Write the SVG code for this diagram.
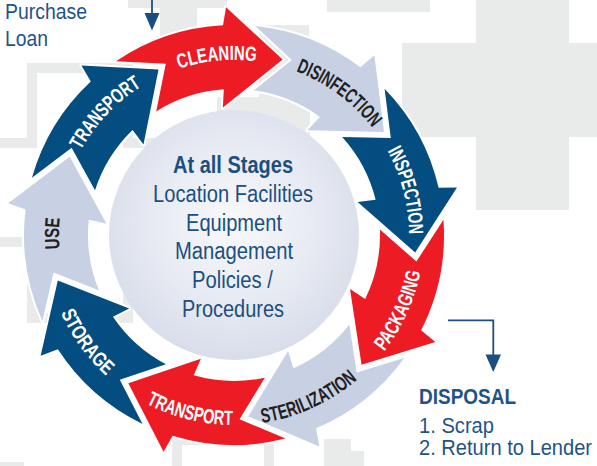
<svg xmlns="http://www.w3.org/2000/svg" xmlns:xlink="http://www.w3.org/1999/xlink" width="597" height="466" viewBox="0 0 597 466">
<style>
.red{fill:#ed1c24}
.blue{fill:#034d80}
.light{fill:#c8d1e3}
.arr{stroke:#fff;stroke-width:4;stroke-linejoin:round;paint-order:stroke}
.lbl{font-family:"Liberation Sans",Arial,sans-serif;font-weight:bold;font-size:20.5px;text-anchor:middle}
.w{fill:#fff}
.k{fill:#231f20}
.ct{font-family:"Liberation Sans",Arial,sans-serif;font-size:23px;fill:#1b4f80;text-anchor:middle}
.bt{font-family:"Liberation Sans",Arial,sans-serif;font-size:21.5px;fill:#1f5388}
.conn{stroke:#1b4f80;stroke-width:1.8;fill:none}
</style>
<defs>
<radialGradient id="cg" cx="50%" cy="45%" r="55%">
<stop offset="0" stop-color="#f8f9fc"/>
<stop offset="0.6" stop-color="#e7eaf2"/>
<stop offset="1" stop-color="#d8ddea"/>
</radialGradient>
<path id="arrow" d="M-160.12,-135.88 A210,210 0 0 1 -66.63,-199.14 L-68.56,-217.44 L0,-182 L-44.82,-119.9 L-48.73,-137.62 A146,146 0 0 0 -107.97,-98.28 L-111.52,-146.8 Z"/>
<path id="arcCW" d="M-112.49,-134.06 A175,175 0 0 1 112.49,-134.06"/>
<path id="arcCCW" d="M122.13,-145.54 A190,190 0 0 0 -122.13,-145.54"/>
</defs>
<rect width="597" height="466" fill="#fff"/>
<g id="background" fill="#e9ebeb">
<rect x="476" y="0" width="93" height="210"/>
<rect x="402" y="43" width="195" height="94"/>
<rect x="327" y="0" width="103" height="12"/>
<rect x="128" y="0" width="99" height="8"/>
<rect x="160" y="0" width="37" height="43"/>
<rect x="259" y="25" width="50" height="110"/>
<rect x="217" y="97" width="93" height="40"/>
<rect x="324" y="439" width="27" height="27"/>
<rect x="324" y="451" width="40" height="15"/>
<rect x="0" y="462" width="24" height="4"/>
<path fill="none" stroke="#e9ebeb" stroke-width="10" d="M0,143 H32 V68 H128 V143 H240 M0,242 H32 V318 H128 V242 H240 M177,466 V440 H269 V466"/>
</g>
<g id="hub">
<circle cx="234" cy="235" r="125" fill="url(#cg)"/>
<text class="ct" x="233" y="173" font-weight="bold" font-size="22.5" textLength="120" lengthAdjust="spacingAndGlyphs">At all Stages</text>
<text class="ct" x="233" y="202" textLength="160" lengthAdjust="spacingAndGlyphs">Location Facilities</text>
<text class="ct" x="234" y="231" textLength="96" lengthAdjust="spacingAndGlyphs">Equipment</text>
<text class="ct" x="234" y="259" textLength="118" lengthAdjust="spacingAndGlyphs">Management</text>
<text class="ct" x="232.5" y="288" textLength="81" lengthAdjust="spacingAndGlyphs">Policies /</text>
<text class="ct" x="233" y="317" textLength="102" lengthAdjust="spacingAndGlyphs">Procedures</text>
</g>
<g id="cleaning" transform="translate(234,235) rotate(15.5)">
<use href="#arrow" class="arr red"/>
<text class="lbl w" transform="rotate(-21)"><textPath href="#arcCW" startOffset="50%" textLength="78" lengthAdjust="spacingAndGlyphs">CLEANING</textPath></text>
</g>
<g id="disinfection" transform="translate(234,235) rotate(55.5)">
<use href="#arrow" class="arr light"/>
<text class="lbl k" transform="rotate(-19)"><textPath href="#arcCW" startOffset="50%" textLength="96" lengthAdjust="spacingAndGlyphs">DISINFECTION</textPath></text>
</g>
<g id="inspection" transform="translate(234,235) rotate(95.5)">
<use href="#arrow" class="arr blue"/>
<text class="lbl w" transform="rotate(-20)"><textPath href="#arcCW" startOffset="50%" textLength="87" lengthAdjust="spacingAndGlyphs">INSPECTION</textPath></text>
</g>
<g id="packaging" transform="translate(234,235) rotate(135.5)">
<use href="#arrow" class="arr red"/>
<text class="lbl w" transform="rotate(-21)"><textPath href="#arcCCW" startOffset="50%" textLength="88" lengthAdjust="spacingAndGlyphs">PACKAGING</textPath></text>
</g>
<g id="sterilization" transform="translate(234,235) rotate(175.5)">
<use href="#arrow" class="arr light"/>
<text class="lbl k" transform="rotate(-20)"><textPath href="#arcCCW" startOffset="50%" textLength="106" lengthAdjust="spacingAndGlyphs">STERILIZATION</textPath></text>
</g>
<g id="transport-out" transform="translate(234,235) rotate(215.5)">
<use href="#arrow" class="arr red"/>
<text class="lbl w" transform="rotate(-21.5)"><textPath href="#arcCCW" startOffset="50%" textLength="90" lengthAdjust="spacingAndGlyphs">TRANSPORT</textPath></text>
</g>
<g id="storage" transform="translate(234,235) rotate(255.5)">
<use href="#arrow" class="arr blue"/>
<text class="lbl w" transform="rotate(-21.5)"><textPath href="#arcCCW" startOffset="50%" textLength="78" lengthAdjust="spacingAndGlyphs">STORAGE</textPath></text>
</g>
<g id="use" transform="translate(234,235) rotate(295.5)">
<use href="#arrow" class="arr light"/>
<text class="lbl k" transform="rotate(-25)"><textPath href="#arcCW" startOffset="50%" textLength="31" lengthAdjust="spacingAndGlyphs">USE</textPath></text>
</g>
<g id="transport-in" transform="translate(234,235) rotate(335.5)">
<use href="#arrow" class="arr blue"/>
<text class="lbl w" transform="rotate(-22)"><textPath href="#arcCW" startOffset="50%" textLength="89" lengthAdjust="spacingAndGlyphs">TRANSPORT</textPath></text>
</g>
<g id="purchase">
<text class="bt" x="5" y="18.5" font-size="23" textLength="82" lengthAdjust="spacingAndGlyphs">Purchase</text>
<text class="bt" x="5" y="46" font-size="23" textLength="43" lengthAdjust="spacingAndGlyphs">Loan</text>
</g>
<g id="disposal">
<text class="bt" x="419" y="404" font-weight="bold" font-size="21.5" fill="#1b4f80" textLength="97" lengthAdjust="spacingAndGlyphs">DISPOSAL</text>
<text class="bt" x="419" y="433" textLength="75" lengthAdjust="spacingAndGlyphs">1. Scrap</text>
<text class="bt" x="419" y="455" textLength="173" lengthAdjust="spacingAndGlyphs">2. Return to Lender</text>
</g>
<g id="connectors">
<path class="conn" d="M152,0 V15"/>
<polygon points="144.5,13 159.5,13 152,30.5" fill="#1b4f80"/>
<path class="conn" d="M448,320.3 H493.3 V357"/>
<polygon points="485.5,354.5 501,354.5 493.3,372" fill="#1b4f80"/>
</g>
</svg>
